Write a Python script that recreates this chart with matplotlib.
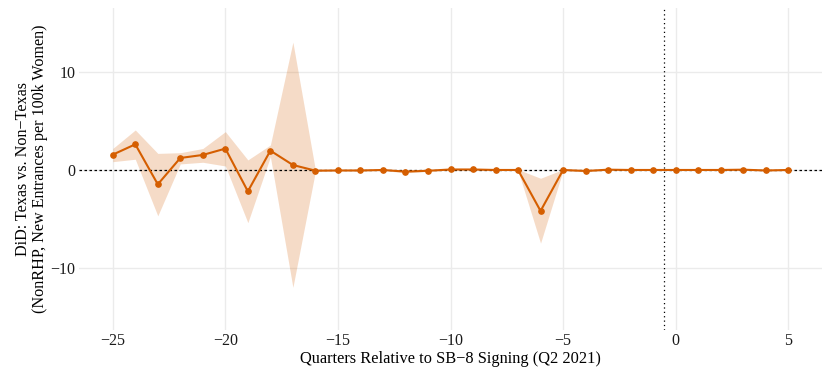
import matplotlib
matplotlib.use("Agg")
import matplotlib.pyplot as plt
import numpy as np

quarters = list(range(-25, 6))
estimate = [1.57, 2.63, -1.47, 1.23, 1.54, 2.19, -2.19, 1.98, 0.51, -0.07,
            -0.05, -0.05, 0.0, -0.17, -0.08, 0.05, 0.05, 0.0, 0.0, -4.2,
            0.0, -0.1, 0.03, 0.0, 0.0, 0.0, 0.0, 0.0, 0.03, -0.05, 0.0]
ci_upper = [2.2, 4.1, 1.7, 1.77, 2.2, 3.93, 1.03, 2.56, 13.1, 0.0,
            0.0, 0.0, 0.05, -0.05, 0.0, 0.1, 0.1, 0.05, 0.05, -0.85,
            0.05, 0.0, 0.08, 0.05, 0.05, 0.05, 0.05, 0.05, 0.08, 0.0, 0.05]
ci_lower = [0.85, 1.1, -4.7, 0.62, 0.79, 0.41, -5.4, 1.36, -12.03, -0.14,
            -0.1, -0.1, -0.05, -0.3, -0.15, 0.0, 0.0, -0.05, -0.05, -7.5,
            -0.05, -0.2, -0.02, -0.05, -0.05, -0.05, -0.05, -0.05, -0.02, -0.1, -0.05]
xticks = [-25, -20, -15, -10, -5, 0, 5]
yticks = [-10, 0, 10]

plt.rcParams['font.family'] = ['Liberation Serif', 'DejaVu Serif']

fig = plt.figure(figsize=(8.22, 3.71), dpi=100)
ax = fig.add_axes([79/822, 1 - 330/371, 1 - 79/822, (330 - 8)/371])

orange = '#D55E00'
ax.fill_between(quarters, ci_lower, ci_upper, color=orange, alpha=0.22, linewidth=0, zorder=2)
ax.axhline(0, color='black', linestyle=(0, (2, 2)), linewidth=0.9, zorder=3)
ax.axvline(-0.5, color='black', linestyle=(0, (1, 2.5)), linewidth=0.9, zorder=3)
ax.plot(quarters, estimate, color=orange, linewidth=1.5, marker='o', markersize=3.8, zorder=4)

ax.set_xlim(-26.5, 6.5)
ax.set_ylim(-16.4, 16.6)
ax.set_xticks(xticks)
ax.set_xticklabels([str(t).replace('-', '\u2212') for t in xticks])
ax.set_yticks(yticks)
ax.set_yticklabels([str(t).replace('-', '\u2212') for t in yticks])
ax.grid(True, color='#EBEBEB', linewidth=1.0, zorder=0)
ax.set_axisbelow(True)
for s in ax.spines.values():
    s.set_visible(False)
ax.tick_params(length=0, labelsize=11.5, colors='#1a1a1a', pad=2.5)
ax.set_xlabel('Quarters Relative to SB\u22128 Signing (Q2 2021)', fontsize=11.8, labelpad=1)
ax.set_ylabel('DiD: Texas vs. Non\u2212Texas\n(NonRHP, New Entrances per 100k Women)', fontsize=11.6, labelpad=2,
              linespacing=1.1)

fig.savefig('out.png', dpi=100)
